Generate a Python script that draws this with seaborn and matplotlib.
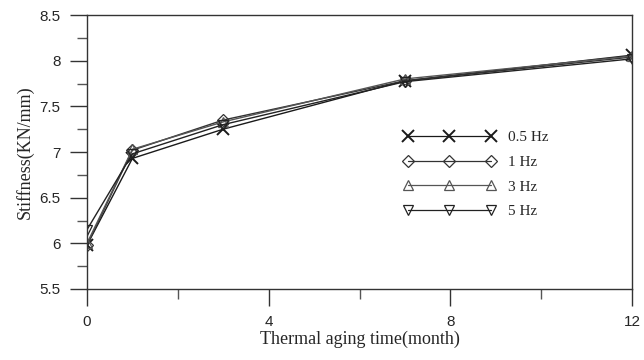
import matplotlib
matplotlib.use("Agg")
import matplotlib.pyplot as plt
import seaborn as sns
import pandas as pd
from matplotlib.ticker import MultipleLocator

months = [0, 1, 3, 7, 12]
s_05hz = [5.98, 6.93, 7.25, 7.78, 8.06]
s_1hz = [5.98, 7.02, 7.35, 7.78, 8.04]
s_3hz = [6.00, 7.03, 7.33, 7.80, 8.05]
s_5hz = [6.15, 6.98, 7.30, 7.77, 8.02]
labels = ["0.5 Hz", "1 Hz", "3 Hz", "5 Hz"]

sns.set_style("ticks")
plt.rcParams["font.family"] = ["Liberation Sans", "DejaVu Sans"]

fig = plt.figure(figsize=(6.44, 3.6), dpi=100)
ax = fig.add_axes([87/644, 1-289/360, (632-87)/644, (289-15)/360])

series = [s_05hz, s_1hz, s_3hz, s_5hz]
markers = ["x", "D", "^", "v"]
msizes = [8, 6, 7, 7]
colors = ["#1a1a1a", "#333333", "#555555", "#222222"]
for vals, lab, m, ms, c in zip(series, labels, markers, msizes, colors):
    df = pd.DataFrame({"month": months, "stiff": vals})
    sns.lineplot(data=df, x="month", y="stiff", ax=ax, color=c, lw=1.0,
                 marker=m, markersize=ms, mfc="none", mec=c, mew=0.9 if m != "x" else 1.4,
                 label=lab, errorbar=None)

ax.set_xlim(0, 12)
ax.set_ylim(5.5, 8.5)
ax.xaxis.set_major_locator(MultipleLocator(4))
ax.xaxis.set_minor_locator(MultipleLocator(2))
ax.yaxis.set_major_locator(MultipleLocator(0.5))
ax.yaxis.set_minor_locator(MultipleLocator(0.25))
ax.set_yticks([5.5, 6, 6.5, 7, 7.5, 8, 8.5])
ax.set_yticklabels(["5.5", "6", "6.5", "7", "7.5", "8", "8.5"])
ax.tick_params(which="major", direction="out", length=12, width=1.0, color="#333333",
               labelsize=11, pad=7)
ax.tick_params(which="minor", direction="out", length=7, width=1.0, color="#555555")
ax.tick_params(axis="x", which="both", top=False)
ax.tick_params(axis="y", which="both", right=False)
for sp in ax.spines.values():
    sp.set_visible(True)
    sp.set_linewidth(1.0)
    sp.set_color("#333333")

ax.set_xlabel("Thermal aging time(month)", family=["Liberation Serif"], fontsize=13, labelpad=1)
ax.set_ylabel("Stiffness(KN/mm)", family=["Liberation Serif"], fontsize=13, labelpad=4)

leg = ax.legend(loc="upper left", bbox_to_anchor=(396/644, 1-123/360),
                bbox_transform=fig.transFigure, frameon=False, numpoints=3,
                handlelength=6.0, handletextpad=0.8, labelspacing=0.72, borderpad=0,
                prop={"family": "Liberation Serif", "size": 11})
for h in leg.legend_handles:
    h.set_linewidth(0.9)

fig.savefig("out.png", dpi=100)
